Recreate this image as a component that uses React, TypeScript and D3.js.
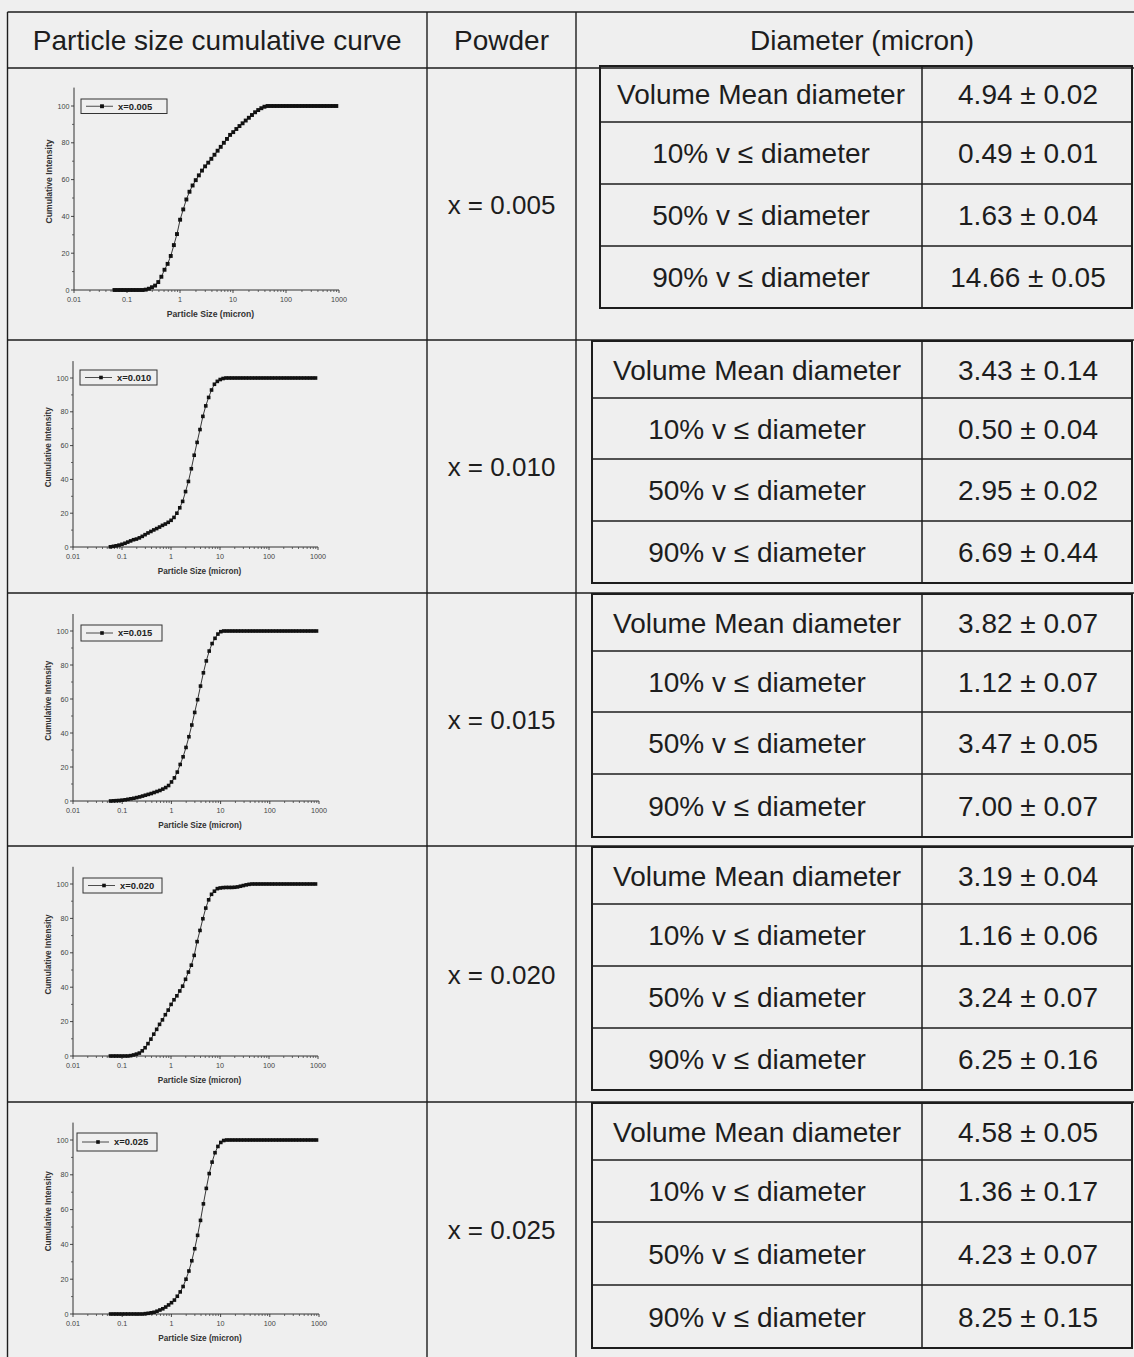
import * as d3 from "d3";

// particle size bins (micron)
const SIZES = [
  0.058, 0.067, 0.076, 0.087, 0.1, 0.115, 0.131, 0.15, 0.172, 0.197,
  0.226, 0.259, 0.296, 0.339, 0.389, 0.445, 0.51, 0.584, 0.669, 0.766,
  0.877, 1.005, 1.151, 1.318, 1.51, 1.729, 1.981, 2.269, 2.599, 2.976,
  3.409, 3.905, 4.472, 5.122, 5.867, 6.72, 7.697, 8.816, 10.097, 11.565,
  13.246, 15.172, 17.377, 19.904, 22.797, 26.111, 29.907, 34.255, 39.234, 44.938,
  51.471, 58.953, 67.523, 77.34, 88.583, 101.46, 116.21, 133.103, 152.453, 174.616,
  200.0, 229.075, 262.376, 300.518, 344.206, 394.244, 451.556, 517.2, 592.387, 678.504,
  777.141, 890.116,
];

// cumulative intensity (%) per powder
const CURVE_005 = [
  0, 0, 0, 0, 0, 0, 0, 0, 0, 0,
  0.2, 0.7, 1.5, 2.4, 4.3, 7.2, 11, 14.2, 18.5, 24.4,
  30.4, 38.2, 43.8, 49.2, 53.4, 56.8, 59.7, 62.3, 64.9, 67.2,
  69.2, 71.3, 73.5, 75.7, 77.8, 80, 82.1, 84.3, 85.8, 87.5,
  89.1, 90.6, 92.1, 93.6, 95.1, 96.6, 97.8, 98.8, 99.6, 100,
  100, 100, 100, 100, 100, 100, 100, 100, 100, 100,
  100, 100, 100, 100, 100, 100, 100, 100, 100, 100,
  100, 100,
];
const CURVE_010 = [
  0.1, 0.4, 0.7, 1.1, 1.6, 2.2, 2.9, 3.6, 4.3, 4.7,
  5.4, 6.3, 7.3, 8.3, 9.2, 10.1, 10.9, 11.8, 12.8, 13.6,
  14.6, 15.8, 17.5, 20, 23.2, 27, 32.8, 38.8, 46.3, 54.3,
  61.9, 69.5, 77.3, 83.5, 88.5, 92.9, 96.3, 98, 99.1, 99.7,
  100, 100, 100, 100, 100, 100, 100, 100, 100, 100,
  100, 100, 100, 100, 100, 100, 100, 100, 100, 100,
  100, 100, 100, 100, 100, 100, 100, 100, 100, 100,
  100, 100,
];
const CURVE_015 = [
  0, 0.1, 0.2, 0.3, 0.5, 0.7, 1, 1.3, 1.6, 2,
  2.4, 2.9, 3.4, 3.9, 4.4, 5, 5.6, 6.2, 7, 7.9,
  9.1, 11.2, 13.6, 17, 21.5, 26, 31.5, 37.8, 44.7, 52.1,
  59.6, 67.6, 75.4, 82.4, 88.2, 92.6, 95.7, 98.2, 99.6, 100,
  100, 100, 100, 100, 100, 100, 100, 100, 100, 100,
  100, 100, 100, 100, 100, 100, 100, 100, 100, 100,
  100, 100, 100, 100, 100, 100, 100, 100, 100, 100,
  100, 100,
];
const CURVE_020 = [
  0, 0, 0, 0, 0, 0, 0, 0.2, 0.6, 1.1,
  1.7, 3, 4.8, 7.2, 9.8, 12.7, 15.5, 18.4, 21, 24,
  26.7, 30, 32.7, 35, 37.8, 40.6, 44.6, 48.8, 52.8, 58.5,
  66.5, 73, 79.8, 86, 90.8, 94, 95.8, 97.3, 97.7, 97.9,
  98, 98, 98, 98.1, 98.3, 98.7, 99.1, 99.5, 99.8, 100,
  100, 100, 100, 100, 100, 100, 100, 100, 100, 100,
  100, 100, 100, 100, 100, 100, 100, 100, 100, 100,
  100, 100,
];
const CURVE_025 = [
  0, 0, 0, 0, 0, 0, 0, 0, 0, 0,
  0, 0, 0.2, 0.4, 0.7, 1, 1.6, 2.3, 3, 4,
  5.2, 6.5, 8, 10.2, 12.7, 15.8, 20, 24.7, 30.6, 37.5,
  45.2, 53.8, 63.3, 72.2, 80.7, 87.3, 92.7, 96.3, 98.6, 99.7,
  100, 100, 100, 100, 100, 100, 100, 100, 100, 100,
  100, 100, 100, 100, 100, 100, 100, 100, 100, 100,
  100, 100, 100, 100, 100, 100, 100, 100, 100, 100,
  100, 100,
];

const CURVES = [CURVE_005, CURVE_010, CURVE_015, CURVE_020, CURVE_025];
const POWDERS = ["0.005", "0.010", "0.015", "0.020", "0.025"];

const HEADERS = ["Particle size cumulative curve", "Powder", "Diameter (micron)"];
const STAT_LABELS = ["Volume Mean diameter", "10% v \u2264 diameter", "50% v \u2264 diameter", "90% v \u2264 diameter"];
const MEAN_D = ["4.94 \u00b1 0.02", "3.43 \u00b1 0.14", "3.82 \u00b1 0.07", "3.19 \u00b1 0.04", "4.58 \u00b1 0.05"];
const D10 = ["0.49 \u00b1 0.01", "0.50 \u00b1 0.04", "1.12 \u00b1 0.07", "1.16 \u00b1 0.06", "1.36 \u00b1 0.17"];
const D50 = ["1.63 \u00b1 0.04", "2.95 \u00b1 0.02", "3.47 \u00b1 0.05", "3.24 \u00b1 0.07", "4.23 \u00b1 0.07"];
const D90 = ["14.66 \u00b1 0.05", "6.69 \u00b1 0.44", "7.00 \u00b1 0.07", "6.25 \u00b1 0.16", "8.25 \u00b1 0.15"];

const X_TICKS = [0.01, 0.1, 1, 10, 100, 1000];
const Y_TICKS = [0, 20, 40, 60, 80, 100];

// page layout
const W = 1134;
const H = 1357;
const LEFT = 7.5;
const TOP = 12;
const COLS = [427, 576];
const ROW_LINES = [68, 340, 593, 846, 1102];
const ROW_END = 1360;
const INNER_RIGHT = 1132;
const INNER_MID = 922;
const INNER = [
  { left: 600, lines: [66, 122, 184, 246, 308] },
  { left: 592, lines: [341, 398, 459, 521, 583] },
  { left: 592, lines: [594, 651, 712, 774, 837] },
  { left: 592, lines: [847, 904, 966, 1028, 1090] },
  { left: 592, lines: [1103, 1160, 1222, 1285, 1348] },
];
const PLOTS = [
  { x0: 74, x1: 339, y0: 290, y100: 106, lx: 81, ly: 99, lw: 86, lh: 14.5, fs: 8.6, ms: 3.9 },
  { x0: 73, x1: 318, y0: 547, y100: 378, lx: 80, ly: 370, lw: 77, lh: 15, fs: 8.2, ms: 3.6 },
  { x0: 73, x1: 319, y0: 801, y100: 631, lx: 81, ly: 625, lw: 81, lh: 16, fs: 8.2, ms: 3.6 },
  { x0: 73, x1: 318, y0: 1056, y100: 884, lx: 83, ly: 878, lw: 79, lh: 15, fs: 8.2, ms: 3.6 },
  { x0: 73, x1: 319, y0: 1314, y100: 1140, lx: 77, ly: 1133, lw: 80, lh: 18, fs: 8.2, ms: 3.6 },
];

const INK = "#1d1d1d";
const FONT = "'Liberation Sans', Arial, sans-serif";

type Plot = (typeof PLOTS)[number];

function Curve({ values, name, p }: { values: number[]; name: string; p: Plot }) {
  const x = d3.scaleLog().domain([0.01, 1000]).range([p.x0, p.x1]);
  const y = d3.scaleLinear().domain([0, 100]).range([p.y0, p.y100]);
  const line = d3
    .line<number>()
    .x((_, i) => x(SIZES[i]))
    .y((v) => y(v));
  const minorX = x.ticks().filter((t) => !X_TICKS.some((m) => Math.abs(t - m) / m < 1e-6));
  const minorY = y.ticks(10).filter((t) => !Y_TICKS.includes(t));
  const yTop = y(110);
  const ms = p.ms;
  const midY = p.ly + p.lh / 2;
  return (
    <g fontFamily={FONT}>
      {/* axes */}
      <line x1={p.x0} x2={p.x0} y1={p.y0} y2={yTop} stroke="#333" strokeWidth={1} />
      <line x1={p.x0} x2={p.x1} y1={p.y0} y2={p.y0} stroke="#333" strokeWidth={1} />
      {X_TICKS.map((t) => (
        <g key={"xt" + t}>
          <line x1={x(t)} x2={x(t)} y1={p.y0} y2={p.y0 + 3} stroke="#333" strokeWidth={0.9} />
          <text x={x(t)} y={p.y0 + 12} fontSize={7.2} fill="#444" textAnchor="middle">
            {String(t)}
          </text>
        </g>
      ))}
      {minorX.map((t) => (
        <line key={"xm" + t} x1={x(t)} x2={x(t)} y1={p.y0} y2={p.y0 + 2} stroke="#444" strokeWidth={0.8} />
      ))}
      {Y_TICKS.map((t) => (
        <g key={"yt" + t}>
          <line x1={p.x0 - 3} x2={p.x0} y1={y(t)} y2={y(t)} stroke="#333" strokeWidth={0.9} />
          <text x={p.x0 - 4.5} y={y(t) + 2.5} fontSize={7.2} fill="#444" textAnchor="end">
            {String(t)}
          </text>
        </g>
      ))}
      {minorY.map((t) => (
        <line key={"ym" + t} x1={p.x0 - 2} x2={p.x0} y1={y(t)} y2={y(t)} stroke="#444" strokeWidth={0.8} />
      ))}
      <text
        transform={`translate(${p.x0 - 22},${y(59)}) rotate(-90)`}
        fontSize={p.fs}
        fontWeight="bold"
        fill="#333"
        textAnchor="middle"
      >
        Cumulative Intensity
      </text>
      <text x={(p.x0 + p.x1) / 2 + 4} y={p.y0 + 27} fontSize={p.fs} fontWeight="bold" fill="#333" textAnchor="middle">
        Particle Size (micron)
      </text>
      {/* series */}
      <path d={line(values) ?? ""} fill="none" stroke="#222" strokeWidth={0.9} />
      {values.map((v, i) => (
        <rect
          key={i}
          x={x(SIZES[i]) - ms / 2}
          y={y(v) - ms / 2}
          width={ms}
          height={ms}
          fill="#111"
        />
      ))}
      {/* legend */}
      <rect x={p.lx} y={p.ly} width={p.lw} height={p.lh} fill="none" stroke="#333" strokeWidth={1} />
      <line x1={p.lx + 5} x2={p.lx + 32} y1={midY} y2={midY} stroke="#222" strokeWidth={0.8} />
      <rect x={p.lx + 21 - ms / 2} y={midY - ms / 2} width={ms} height={ms} fill="#111" />
      <text x={p.lx + 37} y={midY + 3.3} fontSize={9.4} fontWeight="bold" fill="#222">
        {name}
      </text>
    </g>
  );
}

export default function App() {
  const stats = [MEAN_D, D10, D50, D90];
  return (
    <div style={{ position: "absolute", left: 0, top: 0 }}>
      <svg width={W} height={H} style={{ display: "block" }}>
        <rect width={W} height={H} fill="#efefef" />

        {/* outer table */}
        <g stroke={INK} strokeWidth={1.4}>
          <line x1={LEFT} x2={W} y1={TOP} y2={TOP} />
          {ROW_LINES.map((ry) => (
            <line key={ry} x1={LEFT} x2={W} y1={ry} y2={ry} />
          ))}
          <line x1={LEFT} x2={LEFT} y1={TOP} y2={ROW_END} />
          {COLS.map((cx) => (
            <line key={cx} x1={cx} x2={cx} y1={TOP} y2={ROW_END} />
          ))}
        </g>

        {/* headers */}
        <g fontFamily={FONT} fontSize={28} fill={INK} textAnchor="middle">
          <text x={(LEFT + COLS[0]) / 2} y={50}>
            {HEADERS[0]}
          </text>
          <text x={(COLS[0] + COLS[1]) / 2} y={50}>
            {HEADERS[1]}
          </text>
          <text x={862} y={50}>
            {HEADERS[2]}
          </text>
        </g>

        {/* rows */}
        {POWDERS.map((pw, r) => {
          const top = ROW_LINES[r];
          const bottom = r < ROW_LINES.length - 1 ? ROW_LINES[r + 1] : 1357;
          const inner = INNER[r];
          const ls = inner.lines;
          return (
            <g key={pw}>
              <text
                x={(COLS[0] + COLS[1]) / 2}
                y={(top + bottom) / 2 + 9.5}
                fontFamily={FONT}
                fontSize={26}
                fill={INK}
                textAnchor="middle"
              >
                {"x = " + pw}
              </text>
              <g stroke={INK}>
                <rect
                  x={inner.left}
                  y={ls[0]}
                  width={INNER_RIGHT - inner.left}
                  height={ls[4] - ls[0]}
                  fill="none"
                  strokeWidth={2}
                />
                {ls.slice(1, 4).map((ly) => (
                  <line key={ly} x1={inner.left} x2={INNER_RIGHT} y1={ly} y2={ly} strokeWidth={1.5} />
                ))}
                <line x1={INNER_MID} x2={INNER_MID} y1={ls[0]} y2={ls[4]} strokeWidth={1.5} />
              </g>
              <g fontFamily={FONT} fontSize={28} fill={INK} textAnchor="middle">
                {STAT_LABELS.map((lab, k) => {
                  const cy = (ls[k] + ls[k + 1]) / 2 + 10;
                  return (
                    <g key={lab}>
                      <text x={(inner.left + INNER_MID) / 2} y={cy}>
                        {lab}
                      </text>
                      <text x={(INNER_MID + INNER_RIGHT) / 2 + 1} y={cy}>
                        {stats[k][r]}
                      </text>
                    </g>
                  );
                })}
              </g>
              <Curve values={CURVES[r]} name={"x=" + pw} p={PLOTS[r]} />
            </g>
          );
        })}
      </svg>
    </div>
  );
}
